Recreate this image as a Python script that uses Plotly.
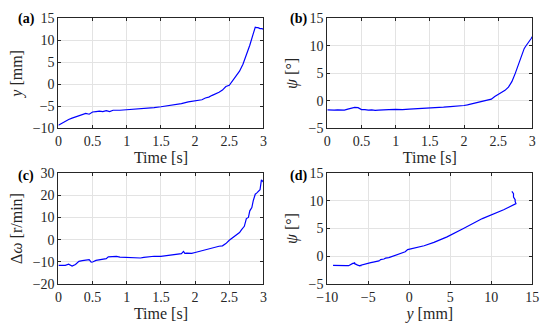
import plotly.graph_objects as go

# ---- data ----
t = [0.00, 0.05, 0.10, 0.15, 0.20, 0.25, 0.30, 0.35, 0.40, 0.45, 0.50, 0.55, 0.60, 0.65,
     0.70, 0.75, 0.80, 0.90, 1.00, 1.10, 1.20, 1.30, 1.40, 1.50, 1.60, 1.70, 1.80, 1.90,
     2.00, 2.05, 2.10, 2.15, 2.20, 2.25, 2.30, 2.35, 2.40, 2.45, 2.50, 2.55, 2.60, 2.65,
     2.70, 2.75, 2.80, 2.85, 2.88, 2.90, 2.92, 2.95, 2.98, 3.00]

y_mm = [-9.3, -8.8, -8.4, -8.0, -7.7, -7.4, -7.2, -6.9, -6.6, -6.8, -6.3, -6.2, -6.1, -6.2,
        -6.0, -6.2, -5.9, -5.9, -5.8, -5.7, -5.6, -5.4, -5.3, -5.1, -4.9, -4.7, -4.4, -4.0,
        -3.7, -3.6, -3.5, -3.1, -2.9, -2.5, -2.2, -1.8, -1.3, -0.5, -0.2, 0.8, 1.8, 3.0,
        4.6, 6.6, 8.9, 11.5, 13.0, 12.9, 12.9, 12.7, 12.7, 12.5]

psi_deg = [-1.65, -1.7, -1.7, -1.65, -1.7, -1.7, -1.5, -1.3, -1.2, -1.25, -1.6, -1.6, -1.7, -1.65,
           -1.75, -1.7, -1.7, -1.6, -1.55, -1.6, -1.5, -1.45, -1.4, -1.3, -1.25, -1.15, -1.05, -1.0,
           -0.85, -0.75, -0.6, -0.5, -0.35, -0.25, -0.1, 0.1, 0.3, 0.8, 1.2, 1.5, 1.9, 2.5,
           3.5, 5.0, 6.8, 8.4, 9.5, 9.9, 10.2, 10.7, 11.3, 11.7]

t_c = [0.00, 0.10, 0.15, 0.17, 0.20, 0.25, 0.28, 0.30, 0.35, 0.40, 0.45, 0.48, 0.50, 0.55,
       0.60, 0.65, 0.70, 0.73, 0.80, 0.85, 0.90, 1.00, 1.10, 1.15, 1.20, 1.25, 1.30, 1.40,
       1.50, 1.55, 1.60, 1.70, 1.75, 1.80, 1.83, 1.85, 1.88, 1.95, 2.00, 2.05, 2.10, 2.15,
       2.20, 2.25, 2.30, 2.35, 2.40, 2.45, 2.50, 2.55, 2.60, 2.63, 2.65, 2.68, 2.70, 2.72,
       2.75, 2.78, 2.80, 2.83, 2.85, 2.88, 2.90, 2.93, 2.95, 2.97, 3.00]

d_omega = [-11.6, -11.6, -11.1, -11.5, -11.9, -11.2, -10.5, -9.8, -9.5, -9.2, -9.0, -10.2, -10.1, -9.4,
           -9.1, -8.8, -8.6, -7.8, -7.7, -7.6, -7.9, -8.0, -8.0, -8.0, -8.3, -8.0, -7.8, -7.5,
           -7.6, -7.4, -7.2, -6.9, -6.7, -6.3, -5.3, -6.2, -6.1, -6.2, -5.8, -5.4, -5.0, -4.4,
           -4.2, -3.8, -3.4, -3.0, -2.8, -1.8, -0.3, 1.0, 2.2, 3.0, 3.2, 4.5, 5.2, 6.0,
           9.5, 10.0, 13.0, 14.5, 17.5, 20.5, 21.0, 22.0, 22.5, 27.0, 26.0]

panel_labels = ["(a)", "(b)", "(c)", "(d)"]

# ---- figure ----
W, H = 550, 333
FONT = "Liberation Serif, Times New Roman, serif"
AX = "#262626"
GRID = "#e3e3e3"
LINE = dict(color="#0000ff", width=1.2)

fig = go.Figure()
fig.add_trace(go.Scatter(x=t, y=y_mm, mode="lines", line=LINE, xaxis="x", yaxis="y"))
fig.add_trace(go.Scatter(x=t, y=psi_deg, mode="lines", line=LINE, xaxis="x2", yaxis="y2"))
fig.add_trace(go.Scatter(x=t_c, y=d_omega, mode="lines", line=LINE, xaxis="x3", yaxis="y3"))
fig.add_trace(go.Scatter(x=y_mm, y=psi_deg, mode="lines", line=LINE, xaxis="x4", yaxis="y4"))

def px_x(p):
    return p / W

def px_y(p):
    return 1 - p / H

dom_x_left = [px_x(49), px_x(261)]
dom_x_right = [px_x(327), px_x(539)]
dom_y_top = [px_y(127), px_y(12)]
dom_y_bot = [px_y(290), px_y(174)]

def axis(domain, anchor, rng, dtick, title, standoff):
    return dict(domain=domain, anchor=anchor, range=rng, dtick=dtick, tick0=rng[0],
                showgrid=True, gridcolor=GRID, gridwidth=1, zeroline=False,
                showline=True, linecolor=AX, linewidth=1, mirror="ticks",
                ticks="inside", ticklen=3, tickcolor=AX,
                tickfont=dict(family=FONT, size=14, color=AX),
                title=dict(text=title, font=dict(family=FONT, size=16, color=AX), standoff=standoff))

fig.update_layout(
    width=W, height=H,
    margin=dict(l=0, r=0, t=0, b=0),
    paper_bgcolor="white", plot_bgcolor="white",
    showlegend=False,
    xaxis=axis(dom_x_left, "y", [0, 3], 0.5, "Time [s]", 1),
    yaxis=axis(dom_y_top, "x", [-10, 15], 5, "<i>y</i> [mm]", 6),
    xaxis2=axis(dom_x_right, "y2", [0, 3], 0.5, "Time [s]", 1),
    yaxis2=axis(dom_y_top, "x2", [-5, 15], 5, "<i>ψ</i> [°]", 6),
    xaxis3=axis(dom_x_left, "y3", [0, 3], 0.5, "Time [s]", 1),
    yaxis3=axis(dom_y_bot, "x3", [-20, 30], 10, "Δ<i>ω</i> [r/min]", 6),
    xaxis4=axis(dom_x_right, "y4", [-10, 15], 5, "<i>y</i> [mm]", 1),
    yaxis4=axis(dom_y_bot, "x4", [-5, 15], 5, "<i>ψ</i> [°]", 6),
)

label_pos = [(16, 13), (297, 13), (15, 177), (297, 177)]
for lab, (lx, ly) in zip(panel_labels, label_pos):
    fig.add_annotation(text=f"<b>{lab}</b>", x=px_x(lx), y=px_y(ly), xref="paper", yref="paper",
                       showarrow=False, xanchor="center", yanchor="middle",
                       font=dict(family=FONT, size=14, color="#000000"))

fig.write_html("out.html", config={"displayModeBar": False},
               post_script="document.body.style.margin='0';")
